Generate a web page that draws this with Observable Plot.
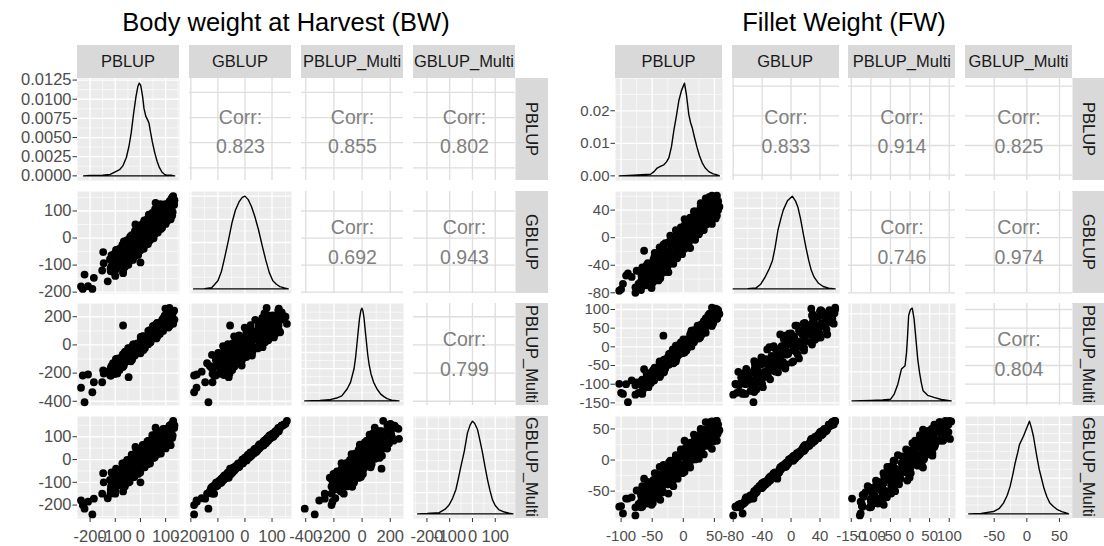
<!DOCTYPE html>
<html><head><meta charset="utf-8">
<script src="https://cdn.jsdelivr.net/npm/d3@7"></script>
<script src="https://cdn.jsdelivr.net/npm/@observablehq/plot@0.6"></script>
<style>
body{margin:0;background:#fff;font-family:"Liberation Sans",Arial,sans-serif;}
#root{position:relative;width:1104px;height:546px;overflow:hidden;background:#fff;}
.title{position:absolute;top:9px;font-size:25.5px;line-height:26px;color:#000;white-space:nowrap;transform:translateX(-50%);}
.strip{position:absolute;background:#D9D9D9;color:#1A1A1A;font-size:16.5px;overflow:hidden;display:flex;align-items:center;justify-content:center;white-space:nowrap;}
.strip.v span{writing-mode:vertical-rl;}
.pnl{position:absolute;}
</style></head><body><div id="root"></div><script>
// ---------- categories ----------
const vars = ["PBLUP", "GBLUP", "PBLUP_Multi", "GBLUP_Multi"];
const titles = ["Body weight at Harvest (BW)", "Fillet Weight (FW)"];

// ---------- BW individuals (same order in the four arrays) ----------
const bwP = [-69,-62,-48,-43,-30,-24,-9,-1,13,17,30,38,52,57,69,81,86,100,107,120,126,
 -121,-115,-102,-97,-83,-72,-66,-53,-41,-35,-22,-16,-3,9,15,28,33,47,58,65,79,
 -105,-100,-88,-85,-74,-70,-57,-51,-40,-37,-26,-17,-12,0,3,14,18,31,37,47,52,64,67,78,87,90,102,107,119,124,134,
 -117,-112,-100,-97,-86,-76,-73,-62,-53,-50,-38,-29,-24,-12,-9,2,11,16,28,31,42,51,54,66,75,80,92,95,106,115,122,
 -236,-229,-222,-191,-185,-208,-152,-146,-148,-119,-69,-69,0,-47,99,130,126,115,-130,-100,135,60,-20,
 -72,-65,-51,-46,-33,-24,-12,-7,7,18,25,39,44,57,66,78,83,97,108,115,128,
 -118,-111,-97,-92,-79,-68,-63,-49,-38,-31,-17,-12,1,12,17,31,42,49,63,68,81,92,97,111,122,129,
 -109,-102,-88,-83,-70,-59,-54,-40,-29,-22,-8,-3,10,21,26,40,51,58,72,77,90];
const bwG = [-122,-107,-99,-85,-81,-68,-63,-46,-40,-27,-22,-8,-1,15,20,33,38,52,64,69,83,
 -78,-63,-57,-44,-39,-25,-12,-8,5,11,26,33,47,52,65,71,86,93,107,112,125,
 -126,-120,-107,-103,-92,-88,-76,-67,-62,-50,-46,-35,-26,-23,-10,-1,4,16,20,31,41,44,55,60,73,78,90,94,105,114,123,
 -108,-97,-88,-84,-72,-67,-54,-49,-38,-33,-21,-17,-6,3,6,18,24,37,41,52,57,68,77,81,93,102,106,117,124,135,144,
 -179,-188,-135,-188,-147,-178,-120,-93,-52,-114,-55,-130,-90,-60,125,155,150,80,-160,-140,140,130,50,
 -107,-93,-88,-75,-64,-59,-45,-34,-27,-13,-8,5,16,21,35,46,53,67,72,85,96,
 -123,-115,-101,-94,-79,-74,-61,-50,-44,-29,-22,-7,-2,11,23,28,43,51,65,70,83,95,102,116,122,136,
 -81,-66,-60,-47,-42,-28,-17,-11,4,10,23,28,42,53,59,74,80,93,98,112,123];
const bwPM = [-70,-109,-57,-104,-8,-48,6,-37,61,17,68,26,123,81,130,95,178,150,191,157,212,
 -214,-149,-203,-145,-153,-80,-146,-75,-86,-21,-75,-16,-25,49,-16,55,33,110,53,114,106,
 -153,-205,-96,-151,-103,-157,-46,-97,-49,-104,3,-42,-4,-45,50,7,44,5,104,60,98,57,152,110,154,99,208,156,205,153,244,
 -217,-154,-165,-105,-168,-97,-122,-49,-115,-55,-66,4,-68,6,-19,53,-12,51,40,100,37,107,81,156,90,153,142,202,140,209,205,
 -304,-217,-407,-336,-265,-210,-265,-203,-180,-217,138,-150,-60,-229,258,150,200,262,-190,-130,180,90,-10,
 -145,-74,-82,-24,-103,-68,11,-11,61,-21,10,92,70,141,56,95,163,155,223,134,175,
 -164,-203,-100,-202,-126,-84,-126,-23,-116,-50,-2,-44,57,-36,27,75,42,133,46,109,155,122,210,123,195,231,
 -129,-178,-121,-178,-67,-109,-66,-109,-1,-50,7,-50,61,19,62,19,127,78,135,78,189];
const bwGM = [-120,-118,-101,-98,-77,-77,-63,-57,-34,-34,-20,-17,7,10,24,26,48,49,70,63,95,
 -89,-57,-63,-40,-48,-17,-16,-2,-2,21,24,41,42,64,65,81,83,107,109,124,124,
 -127,-134,-102,-112,-92,-100,-70,-74,-60,-61,-38,-41,-22,-32,-1,-5,9,9,31,29,48,38,68,59,82,74,105,95,115,112,139,
 -118,-95,-102,-85,-81,-63,-67,-48,-45,-28,-32,-15,-11,10,-4,22,20,46,33,58,55,78,71,88,93,114,101,126,125,149,154,
 -180,-200,-216,-241,-172,-185,-150,-100,-60,-150,-40,-140,-100,-80,135,170,157,91,-170,-150,150,140,55,
 -108,-103,-85,-81,-63,-67,-40,-38,-24,-19,-1,3,21,17,44,46,60,65,83,87,105,
 -133,-115,-114,-96,-87,-72,-72,-50,-50,-24,-31,-4,-6,18,16,32,41,60,60,77,83,106,99,125,124,149,
 -80,-75,-61,-52,-39,-35,-16,-15,9,5,26,26,49,50,64,75,89,92,105,115,134];

// ---------- FW individuals ----------
const fwP = [-51,-49,-40,-37,-33,-24,-25,-16,-10,-9,-2,2,11,10,19,25,26,33,37,46,45,54,56,
 -68,-66,-59,-57,-47,-46,-38,-38,-29,-23,-21,-12,-12,-4,2,2,11,17,19,28,28,36,42,
 -68,-66,-59,-59,-52,-47,-46,-41,-35,-35,-28,-23,-22,-16,-11,-11,-4,-1,5,6,12,17,17,24,27,33,34,40,45,45,52,54,56,
 -72,-67,-66,-60,-55,-55,-48,-45,-39,-38,-31,-31,-24,-19,-18,-12,-7,-6,0,5,5,12,17,18,24,29,29,36,41,42,48,53,54,
 -103,-97,-89,-100,-92,-77,-83,-77,-63,-75,-32,52,45,54,46,-69,58,
 -52,-50,-41,-38,-34,-25,-25,-17,-11,-9,-1,0,8,15,15,23,29,31,39,40,48,54,55,
 -68,-66,-59,-52,-52,-44,-38,-38,-29,-23,-21,-12,-12,-4,2,4,13,13,21,27,27,36,42,44,52,53,
 -67,-65,-56,-56,-48,-42,-40,-31,-31,-23,-17,-15,-7,-6,4,5,12,18,19,27,33,35,43];
const fwG = [-73,-65,-62,-59,-51,-50,-40,-38,-30,-27,-24,-16,-15,-5,-3,5,8,11,19,20,30,32,40,
 -51,-43,-40,-37,-29,-22,-22,-14,-8,-6,3,3,11,15,18,27,29,38,38,46,50,57,59,
 -76,-70,-69,-63,-62,-54,-51,-49,-42,-41,-35,-34,-26,-24,-21,-14,-13,-7,-6,2,4,6,13,18,19,25,30,30,37,42,43,50,53,
 -67,-61,-56,-56,-49,-44,-43,-37,-36,-28,-26,-21,-20,-12,-11,-5,-4,4,6,11,13,20,20,27,32,33,40,42,47,52,53,60,61,
 -77,-67,-52,-75,-55,-72,-57,-80,-19,-48,-10,28,30,54,61,-65,45,
 -65,-63,-56,-49,-49,-41,-35,-33,-24,-24,-17,-10,-8,0,4,6,16,17,25,29,31,41,44,
 -71,-63,-62,-54,-47,-47,-39,-33,-31,-22,-22,-14,-8,-6,3,3,11,17,19,28,28,36,42,44,53,56,
 -56,-48,-47,-39,-32,-32,-24,-18,-16,-7,-7,1,7,9,17,18,26,33,33,41,47,49,57];
const fwPM = [-67,-88,-59,-77,-38,-48,-35,-44,-1,-24,2,-15,33,6,35,22,57,43,64,56,87,76,95,
 -121,-88,-99,-81,-87,-56,-66,-51,-58,-19,-39,-9,-31,12,-2,13,6,45,25,55,33,76,62,
 -101,-121,-82,-100,-75,-90,-62,-72,-48,-71,-33,-43,-27,-41,-6,-24,2,-17,20,4,27,12,39,32,51,38,66,58,80,57,95,80,98,
 -123,-93,-118,-91,-96,-74,-89,-67,-70,-47,-62,-45,-46,-16,-41,-14,-19,4,-12,13,0,33,15,34,30,60,34,63,58,81,65,90,100,
 -99,-126,-148,-123,-100,-103,-90,-128,-60,-95,30,102,79,75,105,-95,88,
 -97,-68,-70,-41,-68,-28,-44,-7,-32,-2,-6,20,-1,36,20,57,32,62,58,84,63,98,84,
 -99,-126,-72,-91,-83,-60,-81,-39,-54,-37,-24,-39,3,-14,3,16,1,43,26,43,53,38,89,62,83,95,
 -91,-114,-84,-108,-61,-77,-58,-68,-34,-47,-21,-42,5,-20,12,-10,35,19,36,25,69,46,75];
const fwGM = [-72,-69,-60,-64,-50,-54,-37,-42,-28,-30,-21,-19,-12,-7,1,2,11,9,24,18,34,31,45,
 -56,-42,-45,-35,-33,-21,-27,-11,-11,-4,-1,6,8,17,15,31,27,41,35,50,49,61,57,
 -76,-75,-70,-66,-62,-59,-52,-51,-41,-45,-35,-36,-25,-28,-21,-15,-11,-10,-5,1,6,3,14,18,22,23,32,30,40,40,45,51,57,
 -71,-60,-59,-57,-52,-42,-45,-37,-39,-26,-28,-21,-23,-9,-12,-4,-6,7,5,12,11,24,20,29,31,37,40,44,46,57,54,63,63,
 -75,-86,-62,-74,-62,-76,-60,-89,-30,-49,-8,34,34,55,62,-68,48,
 -69,-62,-61,-49,-52,-39,-39,-33,-27,-22,-21,-9,-10,3,1,7,14,21,23,31,30,45,42,
 -71,-67,-61,-57,-46,-50,-37,-35,-30,-25,-20,-15,-6,-8,6,2,13,16,23,28,31,35,46,44,57,56,
 -57,-52,-46,-42,-32,-36,-23,-21,-15,-10,-5,-1,8,6,20,17,28,31,36,40,49,47,61];

// ---------- correlation labels (pairs 1-2,1-3,1-4,2-3,2-4,3-4) ----------
const bwCorr = ["0.823", "0.855", "0.802", "0.692", "0.943", "0.799"];
const fwCorr = ["0.833", "0.914", "0.825", "0.746", "0.974", "0.804"];

// ---------- density curves [value, density] ----------
const bwDensP = [[-226,0],[-200,0.00005],[-150,0.0001],[-120,0.0002],[-102,0.0005],[-83,0.0008],[-70,0.0013],[-56,0.0024],[-46,0.0038],[-36.7,0.0056],[-27,0.0082],[-17.5,0.0104],[-10,0.0117],[-4.8,0.0121],[1,0.0118],[8.3,0.0104],[14,0.0088],[21,0.0078],[27,0.0074],[33.7,0.0069],[40,0.0057],[46.8,0.0045],[56,0.0031],[66,0.0019],[75,0.0011],[85,0.0005],[95,0.0002],[104.6,0.0001],[120,0.0001],[136,0]];
const bwDensG = [[-190,0],[-150,0.00002],[-123,0.0001],[-100,0.0007],[-87,0.0015],[-74,0.0028],[-61,0.0042],[-48,0.0057],[-35,0.0068],[-22,0.0075],[-10,0.0079],[0,0.0080],[12,0.0077],[24,0.0071],[37,0.0062],[50,0.0051],[63,0.0038],[76.7,0.0025],[90,0.0014],[103,0.0007],[116,0.0004],[129,0.0002],[145,0.00008],[160,0]];
const bwDensPM = [[-407,0],[-300,0.00006],[-234,0.00013],[-180,0.00035],[-144,0.00062],[-106,0.00147],[-82,0.0023],[-57,0.00398],[-46,0.0054],[-36,0.00711],[-27,0.00874],[-18,0.01024],[-9,0.01116],[-1,0.0115],[6,0.01116],[14,0.01024],[23,0.00863],[32,0.00711],[40,0.00575],[49,0.0046],[63.5,0.00334],[82,0.0023],[106,0.00147],[132,0.00084],[155,0.00052],[177,0.00028],[210,0.00009],[262,0]];
const bwDensGM = [[-241,0],[-200,0.00003],[-146,0.00012],[-120,0.00044],[-102,0.00085],[-87,0.00148],[-73,0.00226],[-62,0.00331],[-51,0.00444],[-36,0.00587],[-22,0.0076],[-10,0.00835],[0,0.0087],[10,0.00848],[22,0.00792],[33,0.00687],[44,0.00574],[55,0.00444],[66,0.00322],[77,0.00218],[88,0.00131],[100,0.00078],[117,0.00037],[140,0.00017],[161,0.00007],[178,0]];
const fwDensP = [[-103,0],[-80,0.0002],[-60,0.0004],[-52.7,0.0005],[-47,0.0013],[-42,0.0024],[-36,0.003],[-31.3,0.0034],[-27,0.0043],[-23.3,0.0055],[-19,0.009],[-15.3,0.0138],[-11,0.0185],[-7.2,0.0231],[-3,0.0262],[1.9,0.0285],[5,0.025],[8.8,0.0189],[11.5,0.0165],[14.3,0.0148],[18,0.0118],[22.3,0.0086],[26,0.0062],[30.4,0.004],[35,0.0025],[41,0.0013],[48,0.0006],[54.5,0.0003],[58,0]];
const fwDensG = [[-80,0],[-60,0.00007],[-48.4,0.00025],[-42,0.00115],[-35.9,0.0029],[-30,0.00506],[-25.7,0.00704],[-22,0.01035],[-18.2,0.01454],[-14,0.01748],[-10.8,0.01953],[-5,0.02185],[1.7,0.023],[6,0.02185],[9.4,0.02033],[13,0.01748],[16.9,0.01371],[20.5,0.01035],[24.4,0.00706],[28,0.0046],[31.9,0.0029],[38,0.00138],[44.4,0.00058],[52,0.00018],[61,0]];
const fwDensPM = [[-148,0],[-100,0.00016],[-70,0.00032],[-49.5,0.00058],[-40.3,0.00234],[-31.1,0.00576],[-21.9,0.01098],[-12.7,0.01213],[-9,0.01664],[-6.3,0.0224],[-3.5,0.02944],[1.1,0.03152],[5.7,0.032],[10.3,0.02829],[15,0.02138],[19.6,0.01443],[24.2,0.00982],[28.5,0.0064],[33.4,0.00346],[45,0.00192],[61,0.00118],[80,0.00048],[105,0]];
const fwDensGM = [[-89,0],[-70,0.00013],[-51,0.00065],[-42,0.00156],[-35.8,0.00302],[-30,0.0052],[-25.6,0.0077],[-21,0.01144],[-17.9,0.01427],[-14,0.01716],[-11.3,0.01942],[-5.2,0.02176],[0,0.02413],[4,0.026],[7,0.02418],[10.1,0.02176],[15.3,0.01612],[19,0.01248],[23,0.00957],[26.5,0.00702],[30.6,0.00486],[35,0.00312],[40.7,0.00205],[47,0.00117],[53.6,0.00065],[61.3,0.00021],[64,0]];

// ---------- tick labels ----------
const bwTicks = [[-200,-100,0,100],[-200,-100,0,100],[-400,-200,0,200],[-200,-100,0,100]];
const fwTicks = [[-100,-50,0,50],[-80,-40,0,40],[-150,-100,-50,0,50,100],[-50,0,50]];
const bwDensTicks = [0,0.0025,0.005,0.0075,0.01,0.0125];
const fwDensTicks = [0,0.01,0.02];

// ---------- scale domains ----------
const bwDomains = [[-250,155],[-205,172],[-430,294],[-259,189]];
const fwDomains = [[-109,63],[-81,67],[-157,116],[-94,70]];

// ---------- layout ----------
const rowsY = [78, 191, 303, 416], PH = 102, stripTop = 45, stripH = 33;
const traits = [
  {title: titles[0], titleX: 286, cols: [77,189,301,413], W: 102, stripX: 515, axisFont: 16.5,
   vals: [bwP,bwG,bwPM,bwGM], dom: bwDomains, ticks: bwTicks, dens: [bwDensP,bwDensG,bwDensPM,bwDensGM],
   densTicks: bwDensTicks, densFmt: d3.format(".4f"), corr: bwCorr},
  {title: titles[1], titleX: 844, cols: [615,731.67,848.33,965], W: 107, stripX: 1072, axisFont: 15,
   vals: [fwP,fwG,fwPM,fwGM], dom: fwDomains, ticks: fwTicks, dens: [fwDensP,fwDensG,fwDensPM,fwDensGM],
   densTicks: fwDensTicks, densFmt: d3.format(".2f"), corr: fwCorr}
];
const pairIndex = {"0,1":0,"0,2":1,"0,3":2,"1,2":3,"1,3":4,"2,3":5};
const hasAxisMarks = typeof Plot.axisX === "function";
const FONT = '"Liberation Sans", Arial, sans-serif';
const root = document.getElementById("root");

function inDom(t, dom){ return t.filter(v => v >= dom[0] && v <= dom[1]); }
function minorTicks(t, dom){
  const s = t[1] - t[0];
  const m = [t[0] - s/2, ...t.map(v => v + s/2)];
  return m.filter(v => v > dom[0] && v < dom[1]);
}
const intFmt = d => String(d);

function panel(T, i, j){
  const ml = j === 0 ? 70 : 0, mb = i === 3 ? 30 : 0;
  const upper = i < j, diag = i === j;
  const xDom = T.dom[j], xt = T.ticks[j];
  let yDom, yt, yFmt = intFmt;
  if (diag){
    const mx = d3.max(T.dens[i], d => d[1]);
    yDom = [-0.05*mx, 1.05*mx];
    yt = i === 0 ? T.densTicks : d3.ticks(0, mx, 4);
    if (i === 0) yFmt = T.densFmt;
  } else { yDom = T.dom[i]; yt = T.ticks[i]; }
  const bg = upper ? "#FFFFFF" : "#EBEBEB";
  const gc = upper ? "#DEDEDE" : "#FFFFFF";
  const marks = [Plot.frame({fill: bg, stroke: "none"})];
  if (!upper){
    marks.push(Plot.ruleX(minorTicks(xt, xDom), {stroke: gc, strokeWidth: 0.6}));
    marks.push(Plot.ruleY(minorTicks(yt, yDom), {stroke: gc, strokeWidth: 0.6}));
  }
  marks.push(Plot.ruleX(inDom(xt, xDom), {stroke: gc, strokeWidth: 1.3}));
  marks.push(Plot.ruleY(inDom(yt, yDom), {stroke: gc, strokeWidth: 1.3}));
  if (diag){
    const pts = T.dens[i];
    marks.push(Plot.line([...pts, pts[0]], {x: d => d[0], y: d => d[1], stroke: "#000", strokeWidth: 1.4}));
  } else if (upper){
    const c = T.corr[pairIndex[i + "," + j]];
    const off = i === 0 ? 2.5 : 0;
    marks.push(Plot.text(["Corr:"], {text: d => d, frameAnchor: "middle", dy: -14.5 + off, fontSize: 19.5, fill: "#808080"}));
    marks.push(Plot.text([c], {text: d => d, frameAnchor: "middle", dy: 15 + off, fontSize: 19.5, fill: "#808080"}));
  } else {
    const idx = d3.range(T.vals[j].length);
    marks.push(Plot.dot(idx, {x: k => T.vals[j][k], y: k => T.vals[i][k], r: 3.9, fill: "#000", stroke: "none"}));
  }
  const xOpt = {domain: xDom}, yOpt = {domain: yDom};
  const showX = i === 3, showY = j === 0;
  const fs = T.axisFont;
  if (hasAxisMarks){
    if (showX) marks.push(Plot.axisX(xt, {anchor: "bottom", tickSize: 4, tickPadding: 8, tickFormat: intFmt, stroke: "#333333", fill: "#4D4D4D", fontSize: fs, label: null}));
    else xOpt.axis = null;
    if (showY) marks.push(Plot.axisY(yt, {anchor: "left", tickSize: 4.5, tickPadding: 1.5, tickFormat: yFmt, stroke: "#333333", fill: "#4D4D4D", fontSize: fs, label: null}));
    else yOpt.axis = null;
  } else {
    if (showX) Object.assign(xOpt, {axis: "bottom", ticks: xt, tickSize: 4, tickPadding: 8, tickFormat: intFmt, label: null});
    else xOpt.axis = null;
    if (showY) Object.assign(yOpt, {axis: "left", ticks: yt, tickSize: 4.5, tickPadding: 1.5, tickFormat: yFmt, label: null});
    else yOpt.axis = null;
  }
  const svg = Plot.plot({
    width: T.W + ml, height: PH + mb,
    marginLeft: ml, marginRight: 0, marginTop: 0, marginBottom: mb,
    x: xOpt, y: yOpt,
    style: {background: "transparent", overflow: "visible", fontFamily: FONT, fontSize: fs + "px", color: "#4D4D4D"},
    marks
  });
  const wrap = document.createElement("div");
  wrap.className = "pnl";
  wrap.style.left = (T.cols[j] - ml) + "px";
  wrap.style.top = rowsY[i] + "px";
  wrap.appendChild(svg);
  root.appendChild(wrap);
}

for (const T of traits){
  const t = document.createElement("div");
  t.className = "title"; t.textContent = T.title; t.style.left = T.titleX + "px";
  root.appendChild(t);
  vars.forEach((v, k) => {
    const s = document.createElement("div");
    s.className = "strip";
    Object.assign(s.style, {left: T.cols[k] + "px", top: stripTop + "px", width: T.W + "px", height: stripH + "px"});
    s.textContent = v;
    root.appendChild(s);
    const r = document.createElement("div");
    r.className = "strip v";
    Object.assign(r.style, {left: T.stripX + "px", top: rowsY[k] + "px", width: stripH + "px", height: PH + "px"});
    const sp = document.createElement("span"); sp.textContent = v; r.appendChild(sp);
    root.appendChild(r);
  });
  for (let i = 0; i < 4; i++) for (let j = 0; j < 4; j++) panel(T, i, j);
}
</script></body></html>
